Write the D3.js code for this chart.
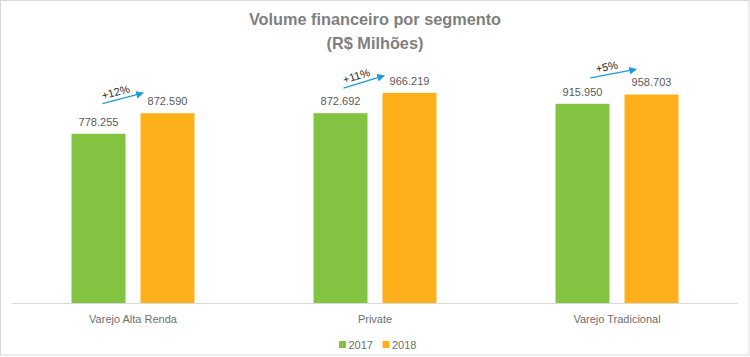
<!DOCTYPE html>
<html>
<head>
<meta charset="utf-8">
<script src="https://cdn.jsdelivr.net/npm/d3@7"></script>
<style>
  html, body { margin: 0; padding: 0; background: #fff; }
  svg { display: block; }
</style>
</head>
<body>
<svg id="chart" width="750" height="357"></svg>
<script>
const categories = ["Varejo Alta Renda", "Private", "Varejo Tradicional"];
const seriesNames = ["2017", "2018"];
const values2017 = [778255, 872692, 915950];
const values2018 = [872590, 966219, 958703];
const growthLabels = ["+12%", "+11%", "+5%"];
const colors = ["#82c341", "#fdb019"];
const titleLines = ["Volume financeiro por segmento", "(R$ Milhões)"];

const fmt = v => d3.format(",")(v).replace(/,/g, ".");
const font = "'Liberation Sans', Arial, sans-serif";

const svg = d3.select("#chart");
const W = 750, H = 357;

// border
svg.append("rect").attr("x", 0.5).attr("y", 0.5).attr("width", W - 1.5).attr("height", H - 2.5)
  .attr("fill", "#fff").attr("stroke", "#d9d9d9").attr("stroke-width", 1);

const plot = { left: 12, right: 738, top: 42, bottom: 303 };

const x0 = d3.scaleBand().domain(categories).range([plot.left, plot.right]).paddingInner(0).paddingOuter(0);
const x1 = d3.scaleBand().domain(seriesNames).range([0, 123]).paddingInner(15 / 69);
const y = d3.scaleLinear().domain([0, 1200000]).range([plot.bottom, plot.top]);

// title
svg.append("g").selectAll("text").data(titleLines).join("text")
  .attr("x", 375).attr("y", (d, i) => 25 + i * 24)
  .attr("text-anchor", "middle")
  .attr("font-family", font).attr("font-weight", "bold").attr("font-size", "16.3px")
  .attr("fill", "#7f7f7f").text(d => d);

const data = categories.map((c, i) => ({ cat: c, vals: [values2017[i], values2018[i]], growth: growthLabels[i] }));

const groupOffset = (x0.bandwidth() - 123) / 2;

const groups = svg.append("g").selectAll("g").data(data).join("g")
  .attr("transform", d => `translate(${x0(d.cat) + groupOffset},0)`);

groups.selectAll("rect").data(d => d.vals.map((v, j) => ({ s: seriesNames[j], v, j }))).join("rect")
  .attr("x", d => x1(d.s)).attr("width", x1.bandwidth())
  .attr("y", d => y(d.v)).attr("height", d => y(0) - y(d.v))
  .attr("fill", d => colors[d.j]);

groups.selectAll("text.val").data(d => d.vals.map((v, j) => ({ s: seriesNames[j], v, j }))).join("text")
  .attr("class", "val")
  .attr("x", d => x1(d.s) + x1.bandwidth() / 2).attr("y", d => y(d.v) - 8)
  .attr("text-anchor", "middle")
  .attr("font-family", font).attr("font-size", "11px").attr("fill", "#595959")
  .text(d => fmt(d.v));

// axis
const axis = svg.append("g").attr("transform", `translate(0,${plot.bottom})`)
  .call(d3.axisBottom(x0).tickSize(0).tickPadding(12));
axis.select(".domain").attr("stroke", "#d9d9d9").attr("d", `M${plot.left},0.5H${plot.right}`);
axis.selectAll("text").attr("font-family", font).attr("font-size", "11px").attr("fill", "#6e6e6e");

// arrows
const defs = svg.append("defs");
defs.append("marker").attr("id", "ah").attr("viewBox", "0 0 10 10").attr("refX", 8).attr("refY", 5)
  .attr("markerWidth", 6).attr("markerHeight", 6).attr("orient", "auto")
  .append("path").attr("d", "M0,0L10,5L0,10z").attr("fill", "#1e9ad6");

const arrowOffsets = [
  { sx: 4, sy: -30, ex: 2, ey: -20 },
  { sx: 3, sy: -25, ex: 1, ey: -17 },
  { sx: 8, sy: -26, ex: 11, ey: -25 }
];

groups.each(function (d, i) {
  const g = d3.select(this);
  const o = arrowOffsets[i];
  const xs = x1("2017") + x1.bandwidth() / 2 + o.sx;
  const ys = y(d.vals[0]) + o.sy;
  const xe = x1("2018") + o.ex;
  const ye = y(d.vals[1]) + o.ey;
  g.append("line").attr("x1", xs).attr("y1", ys).attr("x2", xe).attr("y2", ye)
    .attr("stroke", "#1e9ad6").attr("stroke-width", 1.3).attr("marker-end", "url(#ah)");
  const ang = Math.atan2(ye - ys, xe - xs) * 180 / Math.PI;
  const mx = (xs + xe) / 2, my = (ys + ye) / 2;
  g.append("text").attr("transform", `translate(${mx},${my}) rotate(${ang})`)
    .attr("x", -5).attr("y", -4)
    .attr("text-anchor", "middle")
    .attr("font-family", font).attr("font-size", "11px").attr("fill", "#262626")
    .text(d.growth);
});

// legend
const legend = svg.append("g").attr("transform", "translate(339,341)");
const li = legend.selectAll("g").data(seriesNames).join("g")
  .attr("transform", (d, i) => `translate(${i * 43.5},0)`);
li.append("rect").attr("width", 7).attr("height", 7).attr("fill", (d, i) => colors[i]);
li.append("text").attr("x", 9.5).attr("y", 7.5)
  .attr("font-family", font).attr("font-size", "11px").attr("fill", "#6e6e6e").text(d => d);
</script>
</body>
</html>
